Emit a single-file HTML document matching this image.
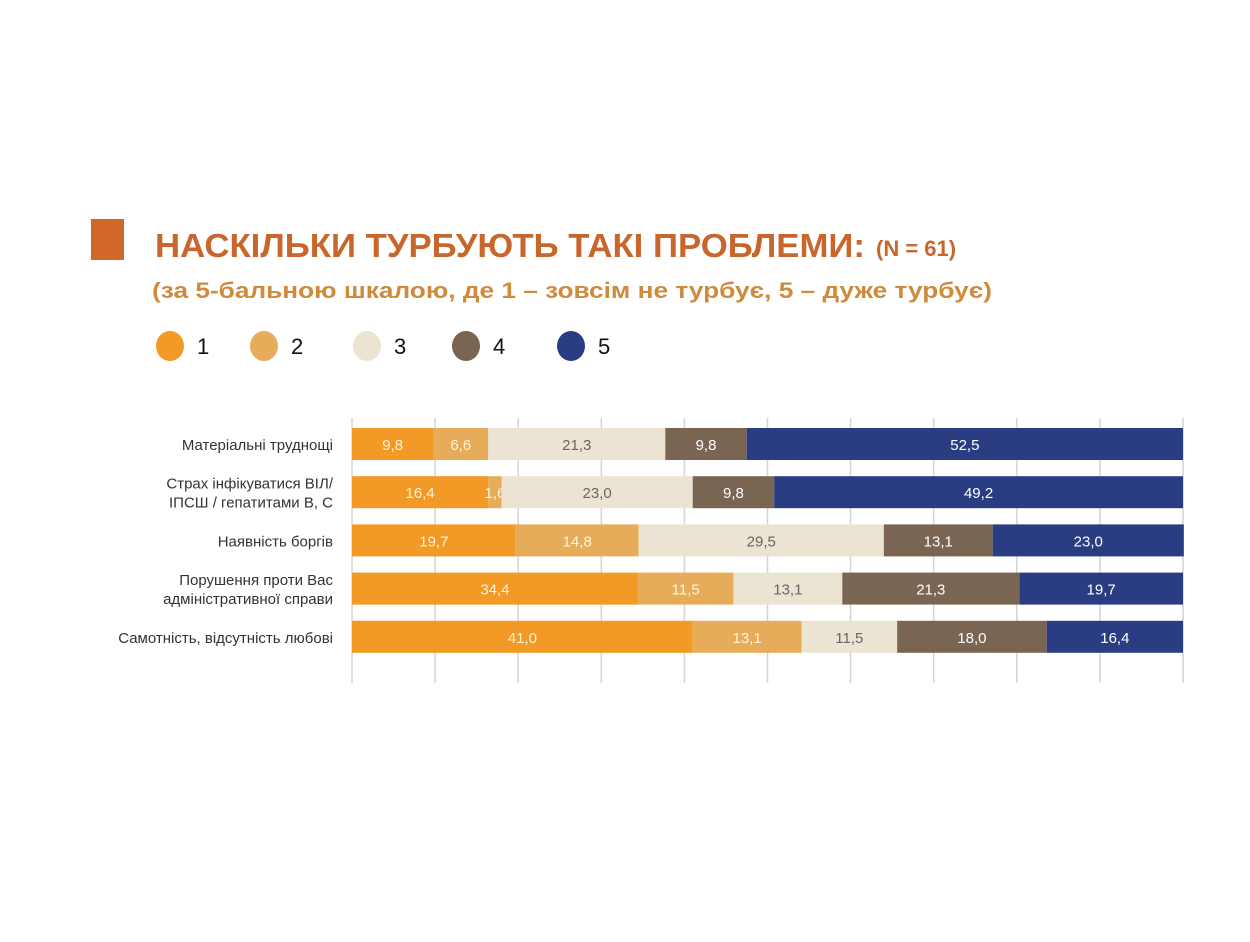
<!DOCTYPE html>
<html><head><meta charset="utf-8"><style>
body{margin:0;background:#fff;width:1250px;height:937px;overflow:hidden;font-family:"Liberation Sans","DejaVu Sans",sans-serif;}
</style></head><body>
<svg width="1250" height="937" xmlns="http://www.w3.org/2000/svg">
<rect x="91" y="219" width="33" height="41" fill="#d2672a"/>
<text x="155" y="257" font-size="33" font-weight="bold" fill="#c8662c" textLength="710" lengthAdjust="spacingAndGlyphs">НАСКІЛЬКИ ТУРБУЮТЬ ТАКІ ПРОБЛЕМИ:</text>
<text x="876" y="256" font-size="22" font-weight="bold" fill="#c8662c">(N = 61)</text>
<text x="152" y="298" font-size="22" font-weight="bold" fill="#d08a3e" textLength="840" lengthAdjust="spacingAndGlyphs">(за 5-бальною шкалою, де 1 – зовсім не турбує, 5 – дуже турбує)</text>
<g id="legend"></g>
<g id="grid"></g>
<g id="bars"></g>
<g id="labels"></g>
</svg>
<script>
const categories=[["Матеріальні труднощі"],["Страх інфікуватися ВІЛ/","ІПСШ / гепатитами В, С"],["Наявність боргів"],["Порушення проти Вас","адміністративної справи"],["Самотність, відсутність любові"]];
const s1=[9.8,16.4,19.7,34.4,41.0];
const s2=[6.6,1.6,14.8,11.5,13.1];
const s3=[21.3,23.0,29.5,13.1,11.5];
const s4=[9.8,9.8,13.1,21.3,18.0];
const s5=[52.5,49.2,23.0,19.7,16.4];
const seriesNames=["1","2","3","4","5"];
const ticks=[0,10,20,30,40,50,60,70,80,90,100];
const colors=["#f29a25","#e6ac5a","#ebe4d2","#7a6553","#2b3d82"];
const textColors=["#fff4dc","#fff4dc","#666","#fff","#fff"];
const NS="http://www.w3.org/2000/svg";
const x0=352,x1=1183;
const X=v=>x0+(x1-x0)*v/100;
const rowY=i=>428+i*48.2, bh=32;
function mk(t,a,p){const e=document.createElementNS(NS,t);for(const k in a)e.setAttribute(k,a[k]);p.appendChild(e);return e;}
const grid=document.getElementById('grid');
ticks.forEach(t=>{const l=mk('line',{x1:X(t),x2:X(t),y1:418,y2:683,stroke:'#d4d4d4','stroke-width':1.5},grid);

});
const series=[s1,s2,s3,s4,s5];
const bars=document.getElementById('bars');
categories.forEach((c,i)=>{let acc=0;
 series.forEach((s,j)=>{const v=s[i];const r=mk('rect',{x:X(acc),y:rowY(i),width:X(acc+v)-X(acc),height:bh,fill:colors[j]},bars);
 
 
 const t=mk('text',{x:(X(acc)+X(acc+v))/2,y:rowY(i)+22,'text-anchor':'middle','font-size':15,fill:textColors[j]},bars);
 t.textContent=v.toFixed(1).replace('.',',');
 
 
 acc+=v;});
 const lab=document.getElementById('labels');
 c.forEach((line,k)=>{const t=mk('text',{x:333,y:rowY(i)+22+(k-(c.length-1)/2)*19,'text-anchor':'end','font-size':15,fill:'#333'},lab);
 t.textContent=line;
 
 });
});
const lg=document.getElementById('legend');
const lx=[170,264,367,466,571];
seriesNames.forEach((n,j)=>{const c=mk('ellipse',{cx:lx[j],cy:346,rx:14,ry:15,fill:colors[j]},lg);


const t=mk('text',{x:lx[j]+27,y:354,'font-size':22,fill:'#111'},lg);
t.textContent=n;

});
</script>
</body></html>
